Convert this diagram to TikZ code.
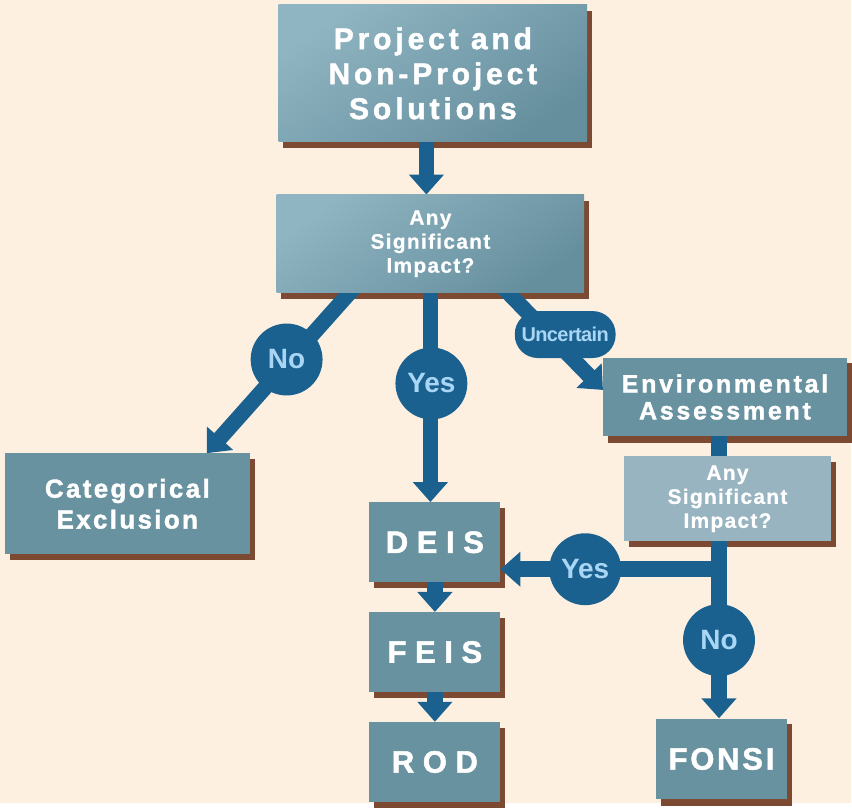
\documentclass[tikz,border=0pt]{standalone}
\usepackage{fontspec}
\setmainfont{Liberation Sans}
\usetikzlibrary{arrows.meta,positioning,backgrounds}
\definecolor{cream}{RGB}{253,240,225}
\definecolor{boxlight}{RGB}{143,180,194}
\definecolor{boxdark}{RGB}{102,143,157}
\definecolor{boxflat}{RGB}{104,146,160}
\definecolor{boxpale}{RGB}{153,180,193}
\definecolor{shadowbrown}{RGB}{124,74,50}
\definecolor{arrowblue}{RGB}{26,97,144}
\definecolor{answerblue}{RGB}{169,214,244}
\tikzset{
  box/.style={text=white, inner sep=0pt, align=center},
  gradbox/.style={box, top color=boxlight, bottom color=boxdark, shading angle=35},
  flatbox/.style={box, fill=boxflat},
  palebox/.style={box, fill=boxpale},
  flow/.style={draw=arrowblue, line width=15.5pt, -{Triangle[width=34pt,length=20pt]}, shorten <=-20pt},
  answer/.style={circle, fill=arrowblue, text=answerblue, minimum size=72pt, inner sep=0pt,
    font=\bfseries\fontsize{28}{28}\selectfont},
}
\begin{document}
\begin{tikzpicture}[x=1pt,y=-1pt,node distance=110pt]
\begin{scope}[on background layer]
  \fill[cream] (0,0) rectangle (852,804);
\end{scope}
% boxes
\node[gradbox, minimum width=309pt, minimum height=137pt,
  font=\bfseries\fontsize{30}{35}\selectfont\addfontfeature{LetterSpace=13,FakeBold=1.6}]
  (solutions) at (433.5,73.5) {Project and\\Non-Project\\Solutions};
\node[gradbox, minimum width=308pt, minimum height=98pt,
  font=\bfseries\fontsize{21}{24}\selectfont\addfontfeature{LetterSpace=6,FakeBold=0.6}]
  (impact) at (431,244) {Any\\Significant\\Impact?};
\node[flatbox, minimum width=245pt, minimum height=101pt,
  font=\bfseries\fontsize{26}{31}\selectfont\addfontfeature{LetterSpace=9,FakeBold=1.6}]
  (catex) at (127.5,504.5) {Categorical\\Exclusion};
\node[flatbox, minimum width=244pt, minimum height=79pt,
  font=\bfseries\fontsize{25}{27}\selectfont\addfontfeature{LetterSpace=11,FakeBold=1.6}]
  (envassess) at (726,397.5) {Environmental\\Assessment};
\node[palebox, minimum width=207pt, minimum height=85pt,
  font=\bfseries\fontsize{21}{24}\selectfont\addfontfeature{LetterSpace=6,FakeBold=0.6}]
  (impact2) at (728.5,499.5) {Any\\Significant\\Impact?};
\node[flatbox, minimum width=131pt, minimum height=80pt,
  font=\bfseries\fontsize{31}{31}\selectfont\addfontfeature{FakeBold=1.6}]
  (deis) at (435.5,543) {D E I S};
\node[flatbox, minimum width=131pt, minimum height=80pt,
  font=\bfseries\fontsize{31}{31}\selectfont\addfontfeature{FakeBold=1.6}, below of=deis]
  (feis) {F E I S};
\node[flatbox, minimum width=131pt, minimum height=80pt,
  font=\bfseries\fontsize{31}{31}\selectfont\addfontfeature{FakeBold=1.6}, below of=feis]
  (rod) {R O D};
\node[flatbox, minimum width=131pt, minimum height=81pt,
  font=\bfseries\fontsize{31}{31}\selectfont\addfontfeature{LetterSpace=9,FakeBold=1.6}]
  (fonsi) at (722.5,760) {FONSI};
\coordinate (split) at (720,570);
% shadows and arrows
\begin{scope}[on background layer]
  \foreach \n in {solutions,impact,catex,envassess,impact2,deis,feis,rod,fonsi}
    \fill[shadowbrown] ([shift={(5pt,-6pt)}]\n.south west) rectangle ([shift={(5pt,-6pt)}]\n.north east);
  \draw[flow] ([xshift=-6.5pt]solutions.south) -- ([xshift=-4pt]impact.north);
  \draw[flow] ([xshift=-81pt]impact.south) -- ([xshift=79.5pt]catex.north);
  \draw[flow] (impact.south) -- (impact.south |- deis.north);
  \draw[flow] ([xshift=78pt]impact.south) -- ([yshift=7pt]envassess.west);
  \draw[flow] (envassess.south -| split) -- (split |- fonsi.north);
  \draw[flow, shorten <=-7.75pt] (split) -- (split -| deis.east);
  \draw[flow] (deis.south) -- (deis.south |- feis.north);
  \draw[flow] (feis.south) -- (feis.south |- rod.north);
\end{scope}
% answers
\node[answer] (no) at (287,360) {No};
\node[answer] (yes) at (432,384) {Yes};
\node[answer] (yes2) at (586,570) {Yes};
\node[answer] (no2) at (720,641) {No};
\node[answer, rectangle, rounded corners=23pt, minimum width=101pt, minimum height=47pt,
  font=\bfseries\fontsize{20}{20}\selectfont\addfontfeature{LetterSpace=-3}]
  (unsure) at (566,335) {Uncertain};
\end{tikzpicture}
\end{document}
